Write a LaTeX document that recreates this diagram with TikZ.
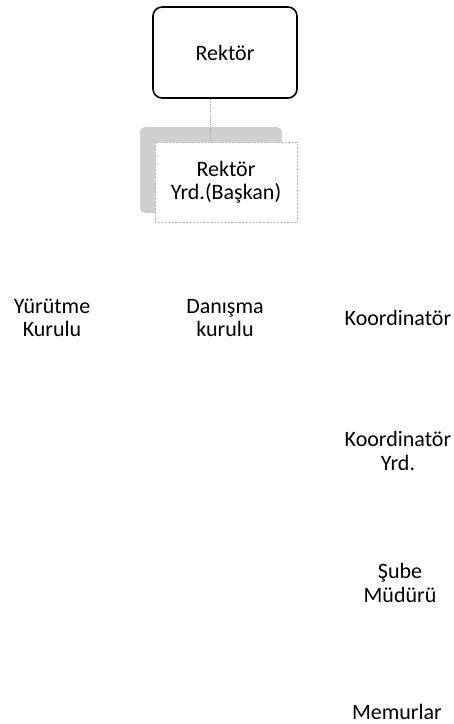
\documentclass[tikz,border=0pt]{standalone}
\usepackage{fontspec}
\setmainfont{Carlito}
\usetikzlibrary{positioning,calc}

\begin{document}
\begin{tikzpicture}[x=1pt, y=-1pt,
        lbl/.style={align=center, font=\fontsize{22}{23.5}\selectfont, inner sep=0pt},
        topbox/.style={lbl, draw, line width=1.6pt, rounded corners=9pt, minimum width=144pt, minimum height=91pt},
        yrdbox/.style={lbl, draw=gray!50, densely dotted, fill=white, minimum width=142pt, minimum height=80pt}]
        \useasboundingbox (0,0) rectangle (454,724);

        % Rektor
        \node[topbox] (rektor) at (225,52.5) {Rektör};

        % Rektor yardimcisi, with its grey shadow
        \fill[gray!38, rounded corners=5pt] (140,127) rectangle (282,213);
        \node[yrdbox] (yrd) at (226,182) {Rektör\\Yrd.(Başkan)};
        \draw[gray!60, densely dotted, line width=0.8pt] ([xshift=-15pt]rektor.south) -- ([xshift=-15pt]rektor.south |- yrd.north);

        % Kurullar
        \node[lbl] (yurutme) at (52,318) {Yürütme\\Kurulu};
        \node[lbl] (danisma) at (225,318) {Danışma\\kurulu};

        % Koordinatorluk
        \node[lbl] (koord) at (398,318) {Koordinatör};
        \node[lbl] (koordyrd) at (398,451) {Koordinatör\\Yrd.};
        \node[lbl] (sube) at (400,583) {Şube\\Müdürü};
        \node[lbl] (memur) at (397,712) {Memurlar};
    \end{tikzpicture}
\end{document}
